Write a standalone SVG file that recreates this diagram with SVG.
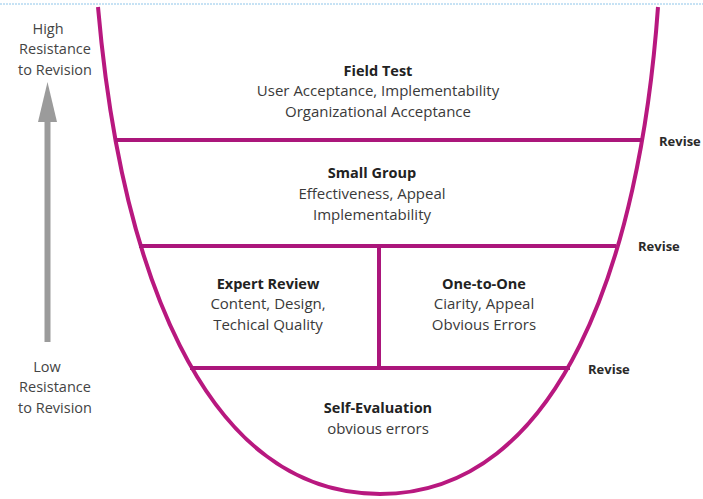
<svg xmlns="http://www.w3.org/2000/svg" width="703" height="499" viewBox="0 0 703 499">
  <defs>
    <style>
      .lbl { font-family: "Open Sans", "Liberation Sans", sans-serif; font-size: 15px; fill: #3a3a3a; text-anchor: middle; }
      .side { font-size: 14.5px; fill: #444; }
      .ttl { font-weight: bold; fill: #222; font-size: 14.5px; }
      .rev { font-family: "Open Sans", "Liberation Sans", sans-serif; font-size: 13px; font-weight: bold; fill: #2a2a2a; }
      .bowl { fill: none; stroke: #b8187f; stroke-width: 4; }
      .div { stroke: #ab167b; stroke-width: 4; fill: none; }
    </style>
  </defs>
  <rect width="703" height="499" fill="#ffffff"/>
  <!-- dotted rule along the top edge -->
  <line x1="0" y1="4" x2="703" y2="4" stroke="#8ec5ea" stroke-width="1" stroke-dasharray="2 1"/>

  <!-- resistance scale -->
  <g id="scale">
    <text class="lbl side" x="48" y="34">High</text>
    <text class="lbl side" x="55" y="54">Resistance</text>
    <text class="lbl side" x="55" y="75">to Revision</text>
    <rect x="44.5" y="118" width="6" height="224" fill="#9b9b9b"/>
    <polygon points="47.5,82 57,122 38,122" fill="#9b9b9b"/>
    <text class="lbl side" x="47" y="372">Low</text>
    <text class="lbl side" x="55" y="392">Resistance</text>
    <text class="lbl side" x="55" y="413">to Revision</text>
  </g>

  <!-- bowl outline and level dividers -->
  <g id="connectors">
    <path class="bowl" d="M98,7 C120,260 200,494 380,494 C560,494 640,260 658,7"/>
    <line class="div" x1="115" y1="140" x2="642" y2="140"/>
    <line class="div" x1="139" y1="246" x2="616" y2="246"/>
    <line class="div" x1="190" y1="368" x2="570" y2="368"/>
    <line class="div" x1="379" y1="246" x2="379" y2="368"/>
  </g>

  <g id="field-test">
    <text class="lbl ttl" x="378" y="76">Field Test</text>
    <text class="lbl" x="378" y="96">User Acceptance, Implementability</text>
    <text class="lbl" x="378" y="117">Organizational Acceptance</text>
  </g>
  <g id="small-group">
    <text class="lbl ttl" x="372" y="178">Small Group</text>
    <text class="lbl" x="372" y="199">Effectiveness, Appeal</text>
    <text class="lbl" x="372" y="220">Implementability</text>
  </g>
  <g id="expert-review">
    <text class="lbl ttl" x="268" y="289">Expert Review</text>
    <text class="lbl" x="268" y="309">Content, Design,</text>
    <text class="lbl" x="268" y="330">Techical Quality</text>
  </g>
  <g id="one-to-one">
    <text class="lbl ttl" x="484" y="289">One-to-One</text>
    <text class="lbl" x="484" y="309">Ciarity, Appeal</text>
    <text class="lbl" x="484" y="330">Obvious Errors</text>
  </g>
  <g id="self-evaluation">
    <text class="lbl ttl" x="378" y="413">Self-Evaluation</text>
    <text class="lbl" x="378" y="434">obvious errors</text>
  </g>

  <g id="revise-labels">
    <text class="rev" x="659" y="146">Revise</text>
    <text class="rev" x="638" y="251">Revise</text>
    <text class="rev" x="588" y="374">Revise</text>
  </g>
</svg>
